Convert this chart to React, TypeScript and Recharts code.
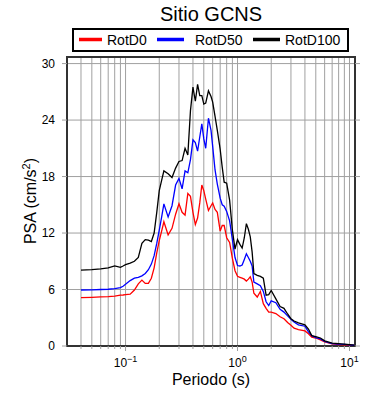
import React from 'react';
import {
  LineChart,
  Line,
  XAxis,
  YAxis,
  CartesianGrid,
  ReferenceArea,
} from 'recharts';

// Periods (s) and spectral accelerations (cm/s^2)
const periods = [
  0.04, 0.05, 0.06, 0.07, 0.08, 0.09, 0.095,
  0.1, 0.11, 0.12, 0.13, 0.14, 0.15, 0.16, 0.17, 0.18, 0.19, 0.2, 0.21, 0.22,
  0.24, 0.26, 0.28, 0.3, 0.32, 0.34, 0.36, 0.38, 0.4, 0.42, 0.44, 0.46, 0.48, 0.5,
  0.52, 0.55, 0.58, 0.6, 0.63, 0.66, 0.7, 0.73, 0.76, 0.8, 0.85, 0.9, 0.95,
  1.0, 1.05, 1.1, 1.15, 1.2, 1.25, 1.3, 1.35, 1.4,
  1.5, 1.6, 1.7, 1.8, 1.9, 2.0,
  2.2, 2.4, 2.6, 2.8, 3.0, 3.2, 3.5,
  4.0, 4.3, 4.6, 5.0, 5.5, 6.0, 7.0, 8.0, 9.0, 10, 11,
];

const rotD0 = [
  5.13, 5.17, 5.22, 5.25, 5.3, 5.4, 5.42,
  5.45, 5.5, 5.95, 6.6, 7.0, 6.65, 6.65, 7.2, 8.3, 9.9, 11.2, 12.2, 13.2,
  11.8, 12.5, 14.0, 15.1, 14.2, 13.9, 16.2, 15.9, 14.2, 12.9, 13.6, 15.2, 17.1, 16.5,
  15.6, 14.4, 14.9, 15.2, 14.5, 14.2, 12.2, 12.8, 12.8, 11.5, 11.0, 9.3, 8.0,
  7.4, 7.3, 7.2, 7.1, 6.9, 7.1, 7.35, 6.8, 5.6,
  5.2, 5.8, 4.5, 4.0, 3.6, 3.6,
  3.45, 3.1, 2.9, 2.5, 2.2, 1.9, 1.75,
  1.6, 1.3, 0.95, 0.85, 0.65, 0.45, 0.22, 0.15, 0.12, 0.1, 0.07,
];

const rotD50 = [
  5.95, 5.97, 6.0, 6.03, 6.1, 6.2, 6.35,
  6.55, 6.95, 7.2, 7.3, 7.45, 7.7, 8.1, 8.7, 9.6, 10.9, 12.3, 13.7, 15.1,
  13.7, 14.9, 17.1, 17.8, 16.7, 18.6, 18.4, 19.8, 21.9, 21.6, 20.7, 22.2, 23.6, 22.0,
  21.0, 24.2, 22.9, 21.2, 18.7, 17.2, 15.7, 15.0, 14.85, 14.3, 13.3, 11.3, 9.4,
  8.55, 8.5, 8.6, 9.2, 9.8, 9.4, 9.0, 8.5, 6.8,
  6.6, 6.4, 5.8, 4.7, 4.3, 4.8,
  4.6, 3.9, 3.6, 3.2, 2.85, 2.55, 2.25,
  2.1, 1.5, 1.1, 0.9, 0.75, 0.5, 0.26, 0.2, 0.17, 0.12, 0.08,
];

const rotD100 = [
  8.07, 8.12, 8.2, 8.3, 8.5, 8.35, 8.5,
  8.65, 8.8, 9.0, 9.4, 10.9, 11.3, 11.25, 11.1, 12.0, 14.2, 16.5, 17.6, 18.6,
  18.3, 17.9, 18.9, 19.6, 19.7, 21.0, 20.3, 25.0, 27.5, 26.0, 27.8, 26.6, 26.6, 25.7,
  25.8, 27.1, 26.5, 25.9, 24.4, 22.9, 20.9, 19.0, 17.4, 17.3, 15.5, 12.3, 10.3,
  11.3, 10.8, 10.4, 11.5, 13.0, 12.4, 11.6, 10.0, 7.7,
  7.5, 7.4, 7.2, 5.4, 5.45, 5.9,
  5.0, 4.2, 4.0, 3.4, 2.9, 2.65, 2.45,
  2.25, 1.8, 1.1, 1.0, 0.85, 0.55, 0.3, 0.25, 0.2, 0.15, 0.1,
];

const gridPeriods = [
  0.04, 0.05, 0.06, 0.07, 0.08, 0.09,
  0.1, 0.2, 0.3, 0.4, 0.5, 0.6, 0.7, 0.8, 0.9,
  1, 2, 3, 4, 5, 6, 7, 8, 9, 10,
];
const decadeExponents: Record<string, string> = { '0.1': '\u22121', '1': '0', '10': '1' };
const yTicks = [0, 6, 12, 18, 24, 30];

const seriesNames = ['RotD0', 'RotD50', 'RotD100'];
const seriesColors = ['#ff0000', '#0000ff', '#000000'];

const chartData = periods.map((t, i) => ({
  t,
  rotD0: rotD0[i],
  rotD50: rotD50[i],
  rotD100: rotD100[i],
}));

const FONT = '"Liberation Sans", Arial, Helvetica, sans-serif';
const GRID = '#a0a0a0';

const BottomTick = (props: any) => {
  const { x, y, payload } = props;
  const exp = decadeExponents[String(payload.value)];
  const major = exp !== undefined;
  return (
    <g>
      <line x1={x} x2={x} y1={y} y2={y + (major ? 5 : 3)} stroke={GRID} />
      {major && (
        <text x={x} y={y + 21} textAnchor="middle" fontSize={12} fill="#000" fontFamily={FONT}>
          10
          <tspan dy={-5} fontSize={9}>{exp}</tspan>
        </text>
      )}
    </g>
  );
};

const TopTick = (props: any) => {
  const { x, y, payload } = props;
  const major = decadeExponents[String(payload.value)] !== undefined;
  return <line x1={x} x2={x} y1={y} y2={y - (major ? 5 : 3)} stroke="#555" />;
};

const LeftTick = (props: any) => {
  const { x, y, payload } = props;
  return (
    <g>
      <line x1={x - 5} x2={x} y1={y} y2={y} stroke={GRID} />
      <text x={x - 12} y={y} dy="0.36em" textAnchor="end" fontSize={12} fill="#000" fontFamily={FONT}>
        {payload.value}
      </text>
    </g>
  );
};

const RightTick = (props: any) => {
  const { x, y } = props;
  return <line x1={x} x2={x + 5} y1={y} y2={y} stroke={GRID} />;
};

const legendItems = [
  { line: [79, 102], text: 107 },
  { line: [157, 184], text: 195 },
  { line: [253, 280], text: 285 },
];

export default function App() {
  return (
    <div style={{ position: 'absolute', left: 0, top: 0, width: 390, height: 400, background: '#fff' }}>
      <LineChart width={390} height={400} data={chartData} margin={{ top: 57, right: 0, bottom: 0, left: 0 }}>
        <CartesianGrid stroke={GRID} strokeWidth={1} />
        <XAxis
          dataKey="t"
          type="number"
          scale="log"
          domain={[0.03, 11.2]}
          allowDataOverflow
          ticks={gridPeriods}
          interval={0}
          height={54}
          tickSize={0}
          tickMargin={0}
          axisLine={false}
          tickLine={false}
          tick={BottomTick}
        />
        <XAxis
          xAxisId="top"
          orientation="top"
          dataKey="t"
          type="number"
          scale="log"
          domain={[0.03, 11.2]}
          allowDataOverflow
          ticks={gridPeriods}
          interval={0}
          height={0}
          tickSize={0}
          tickMargin={0}
          axisLine={false}
          tickLine={false}
          tick={TopTick}
        />
        <YAxis
          type="number"
          domain={[0, 30.7]}
          allowDataOverflow
          ticks={yTicks}
          interval={0}
          width={67}
          tickSize={0}
          tickMargin={0}
          axisLine={false}
          tickLine={false}
          tick={LeftTick}
        />
        <YAxis
          yAxisId="right"
          orientation="right"
          type="number"
          domain={[0, 30.7]}
          allowDataOverflow
          ticks={yTicks}
          interval={0}
          width={35}
          tickSize={0}
          tickMargin={0}
          axisLine={false}
          tickLine={false}
          tick={RightTick}
        />
        <Line type="linear" dataKey="rotD0" stroke={seriesColors[0]} strokeWidth={1.3} dot={false} isAnimationActive={false} />
        <Line type="linear" dataKey="rotD50" stroke={seriesColors[1]} strokeWidth={1.3} dot={false} isAnimationActive={false} />
        <Line type="linear" dataKey="rotD100" stroke={seriesColors[2]} strokeWidth={1.3} dot={false} isAnimationActive={false} />
        <ReferenceArea x1={0.03} x2={11.2} y1={0} y2={30.7} fill="none" stroke="#333" strokeWidth={2} />
      </LineChart>
      <svg
        width={390}
        height={400}
        style={{ position: 'absolute', left: 0, top: 0, pointerEvents: 'none' }}
        fontFamily={FONT}
      >
        <text x={211} y={20.7} textAnchor="middle" fontSize={20} fill="#000">
          Sitio GCNS
        </text>
        <rect x={73} y={29} width={275} height={22} fill="#fff" stroke="#000" strokeWidth={2} />
        {legendItems.map((item, i) => (
          <g key={seriesNames[i]}>
            <line x1={item.line[0]} x2={item.line[1]} y1={39.5} y2={39.5} stroke={seriesColors[i]} strokeWidth={3.5} />
            <text x={item.text} y={44.5} fontSize={14} fill="#000">
              {seriesNames[i]}
            </text>
          </g>
        ))}
        <text x={211} y={385} textAnchor="middle" fontSize={16} fill="#000">
          Periodo (s)
        </text>
        <text x={36} y={201} textAnchor="middle" fontSize={16} fill="#000" transform="rotate(-90 36 201)">
          PSA (cm/s<tspan dy={-6} fontSize={11}>2</tspan>
          <tspan dy={6}>)</tspan>
        </text>
      </svg>
    </div>
  );
}
